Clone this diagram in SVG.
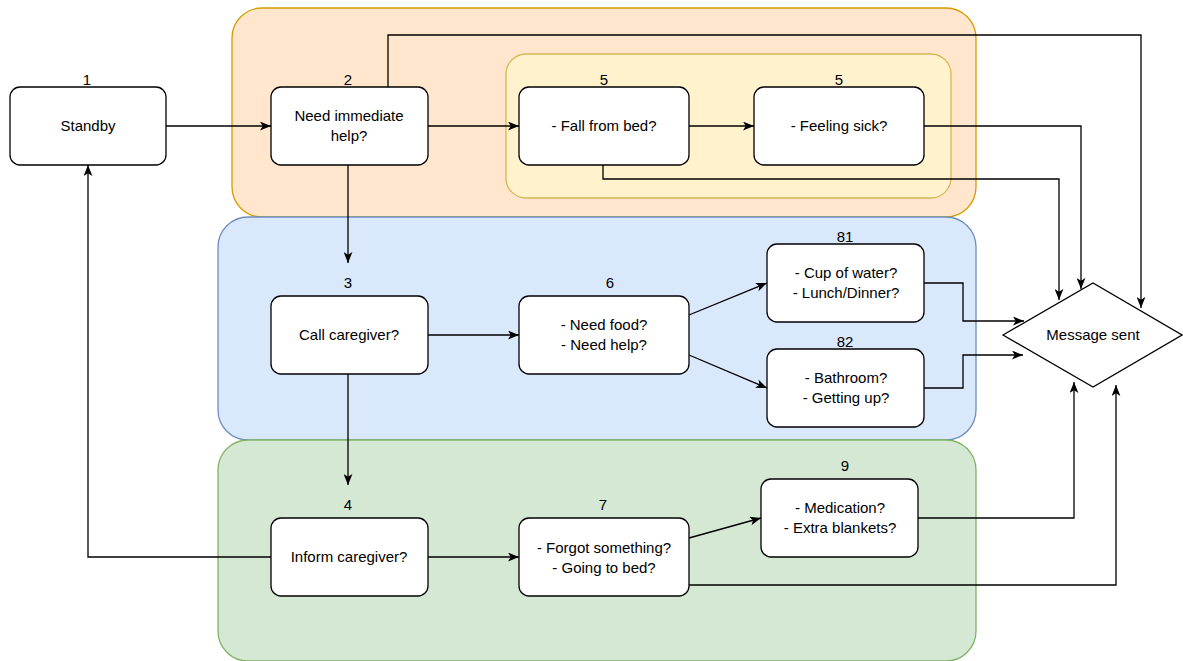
<svg xmlns="http://www.w3.org/2000/svg" width="1183" height="661" viewBox="0 0 1183 661">
<defs>
<style>
.node{fill:#fff;stroke:#000;stroke-width:1.3}
.t{font-family:"Liberation Sans",Arial,Helvetica,sans-serif;font-size:15px;fill:#000;text-anchor:middle}
.e{fill:none;stroke:#000;stroke-width:1.3}
.ea{fill:none;stroke:#000;stroke-width:1.3;marker-end:url(#arr)}
</style>
<marker id="arr" viewBox="0 0 10 8" refX="10" refY="4" markerWidth="11" markerHeight="9" orient="auto" markerUnits="userSpaceOnUse">
<path d="M0,0 L10,4 L0,8 L2.5,4 Z" fill="#000"/>
</marker>
</defs>

<g id="containers">
<rect id="group-orange" x="232" y="8" width="744" height="209" rx="30" fill="#ffe6cc" stroke="#d79b00" stroke-width="1.3"/>
<rect id="group-yellow" x="506" y="54" width="445" height="144" rx="20" fill="#fff2cc" stroke="#d6b656" stroke-width="1.3"/>
<rect id="group-blue" x="218" y="217" width="758" height="223" rx="30" fill="#dae8fc" stroke="#6c8ebf" stroke-width="1.3"/>
<rect id="group-green" x="218" y="440" width="758" height="221" rx="30" fill="#d5e8d4" stroke="#82b366" stroke-width="1.3"/>
</g>

<g id="connectors">
<path class="ea" d="M166,126 L271,126"/>
<path class="ea" d="M388,87 L388,35 L1141,35 L1141,308"/>
<path class="ea" d="M428,126 L519,126"/>
<path class="ea" d="M689,126 L754,126"/>
<path class="ea" d="M603,165 L603,179 L1059,179 L1059,300"/>
<path class="ea" d="M924,126 L1081,126 L1081,289"/>
<path class="ea" d="M348,165 L348,263"/>
<path class="ea" d="M428,335 L519,335"/>
<path class="ea" d="M689,315 L767,283"/>
<path class="ea" d="M689,355 L767,388"/>
<path class="ea" d="M924,283 L963,283 L963,321 L1024,321"/>
<path class="ea" d="M924,388 L963,388 L963,355 L1023,355"/>
<path class="ea" d="M348,374 L348,485"/>
<path class="ea" d="M428,557 L519,557"/>
<path class="ea" d="M271,557 L88,557 L88,165"/>
<path class="ea" d="M689,538 L761,518"/>
<path class="ea" d="M918,518 L1074,518 L1074,382"/>
<path class="ea" d="M689,585 L1116,585 L1116,385"/>
</g>

<g id="node-1">
<rect class="node" x="10" y="87" width="156" height="78" rx="10"/>
<text class="t" x="87" y="85">1</text>
<text class="t" x="88" y="131">Standby</text>
</g>
<g id="node-2">
<rect class="node" x="271" y="87" width="157" height="78" rx="10"/>
<text class="t" x="348" y="85">2</text>
<text class="t" x="349" y="121">Need immediate</text>
<text class="t" x="349" y="141">help?</text>
</g>
<g id="node-5a">
<rect class="node" x="519" y="87" width="170" height="78" rx="10"/>
<text class="t" x="604" y="85">5</text>
<text class="t" x="604" y="131">- Fall from bed?</text>
</g>
<g id="node-5b">
<rect class="node" x="754" y="87" width="170" height="78" rx="10"/>
<text class="t" x="839" y="85">5</text>
<text class="t" x="839" y="131">- Feeling sick?</text>
</g>
<g id="node-3">
<rect class="node" x="271" y="296" width="157" height="78" rx="10"/>
<text class="t" x="348" y="288">3</text>
<text class="t" x="349" y="340">Call caregiver?</text>
</g>
<g id="node-6">
<rect class="node" x="519" y="296" width="170" height="78" rx="10"/>
<text class="t" x="610" y="288">6</text>
<text class="t" x="604" y="330">- Need food?</text>
<text class="t" x="604" y="350">- Need help?</text>
</g>
<g id="node-81">
<rect class="node" x="767" y="244" width="157" height="78" rx="10"/>
<text class="t" x="845" y="242">81</text>
<text class="t" x="846" y="278">- Cup of water?</text>
<text class="t" x="846" y="298">- Lunch/Dinner?</text>
</g>
<g id="node-82">
<rect class="node" x="767" y="349" width="157" height="78" rx="10"/>
<text class="t" x="845" y="347">82</text>
<text class="t" x="846" y="383">- Bathroom?</text>
<text class="t" x="846" y="403">- Getting up?</text>
</g>
<g id="node-msg">
<polygon class="node" points="1003,335 1093,283 1182,335 1093,387"/>
<text class="t" x="1093" y="340">Message sent</text>
</g>
<g id="node-4">
<rect class="node" x="271" y="518" width="157" height="78" rx="10"/>
<text class="t" x="348" y="510">4</text>
<text class="t" x="349" y="562">Inform caregiver?</text>
</g>
<g id="node-7">
<rect class="node" x="519" y="518" width="170" height="78" rx="10"/>
<text class="t" x="603" y="510">7</text>
<text class="t" x="604" y="553">- Forgot something?</text>
<text class="t" x="604" y="573">- Going to bed?</text>
</g>
<g id="node-9">
<rect class="node" x="761" y="479" width="157" height="78" rx="10"/>
<text class="t" x="845" y="471">9</text>
<text class="t" x="840" y="513">- Medication?</text>
<text class="t" x="840" y="533">- Extra blankets?</text>
</g>
</svg>
